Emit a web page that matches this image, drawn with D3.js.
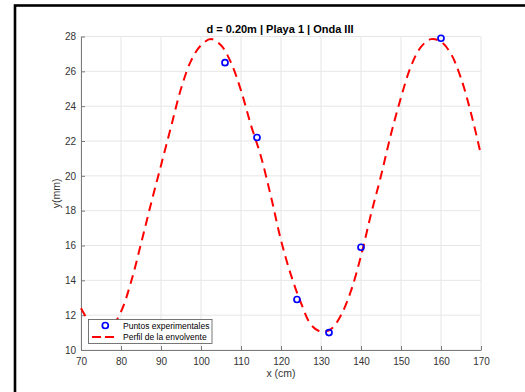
<!DOCTYPE html>
<html>
<head>
<meta charset="utf-8">
<script src="https://cdn.jsdelivr.net/npm/d3@7"></script>
<style>
  html, body { margin: 0; padding: 0; background: #fff; }
  svg { display: block; font-family: "Liberation Sans", Arial, Helvetica, sans-serif; }
</style>
</head>
<body>
<svg id="chart" width="525" height="392"></svg>
<script>
// Measured points along the wave profile
const pointX = [106, 114, 124, 132, 140, 160];
const pointY = [26.5, 22.2, 12.9, 11.0, 15.9, 27.9];

// Envelope profile, sampled every 2.5 cm
const envX = [70, 72.5, 75, 77.5, 80, 82.5, 85, 87.5, 90, 92.5, 95, 97.5, 100, 102.5, 105, 107.5,
              110, 112.5, 115, 117.5, 120, 122.5, 125, 127.5, 130, 132.5, 135, 137.5, 140, 142.5,
              145, 147.5, 150, 152.5, 155, 157.5, 160, 162.5, 165, 167.5, 170];
const envY = [12.4, 11.5, 11.1, 11.3, 12.2, 13.9, 16.1, 18.4, 20.6, 22.8, 25.0, 26.6, 27.5, 27.85, 27.5, 26.5,
              24.9, 22.9, 21.1, 18.8, 16.3, 14.3, 12.7, 11.45, 11.05, 11.2, 12.0, 13.4, 15.4, 17.8,
              20.0, 22.4, 24.5, 26.3, 27.4, 27.85, 27.7, 27.0, 25.6, 23.6, 21.2];

const xTicks = [70, 80, 90, 100, 110, 120, 130, 140, 150, 160, 170];
const yTicks = [10, 12, 14, 16, 18, 20, 22, 24, 26, 28];

const titleText = "d = 0.20m | Playa 1 | Onda III";
const xLabel = "x (cm)";
const yLabel = "y(mm)";
const legendLabels = ["Puntos experimentales", "Perfil de la envolvente"];

const svg = d3.select("#chart");
const plotLeft = 81, plotRight = 481, plotTop = 36.5, plotBottom = 350;

const x = d3.scaleLinear().domain([70, 170]).range([plotLeft, plotRight]);
const y = d3.scaleLinear().domain([10, 28]).range([plotBottom, plotTop]);

// Figure frame
svg.append("rect").attr("x", 15).attr("y", 5.5).attr("width", 540).attr("height", 420)
  .attr("fill", "#fff").attr("stroke", "#000").attr("stroke-width", 2.6);

// Grid
const grid = svg.append("g").attr("stroke", "#e6e6e6").attr("stroke-width", 1);
grid.selectAll("line.gx").data(xTicks).join("line").attr("class", "gx")
  .attr("x1", d => x(d)).attr("x2", d => x(d)).attr("y1", plotTop).attr("y2", plotBottom);
grid.selectAll("line.gy").data(yTicks).join("line").attr("class", "gy")
  .attr("x1", plotLeft).attr("x2", plotRight).attr("y1", d => y(d)).attr("y2", d => y(d));

// Axes (ticks point inward)
const axisColor = "#7a7a7a";
const gx = svg.append("g").attr("transform", `translate(0,${plotBottom})`)
  .call(d3.axisBottom(x).tickValues(xTicks).tickSizeInner(-4).tickSizeOuter(0).tickPadding(8));
const gy = svg.append("g").attr("transform", `translate(${plotLeft},0)`)
  .call(d3.axisLeft(y).tickValues(yTicks).tickSizeInner(-4).tickSizeOuter(0).tickPadding(5));
[gx, gy].forEach(g => {
  g.select(".domain").attr("stroke", axisColor).attr("stroke-width", 1);
  g.selectAll(".tick line").attr("stroke", axisColor);
  g.selectAll(".tick text").attr("fill", "#333").attr("font-size", 10)
    .attr("font-family", "'Liberation Sans', Arial, sans-serif");
});

// Envelope curve
const env = envX.map((v, i) => [v, envY[i]]);
svg.append("path").datum(env)
  .attr("fill", "none").attr("stroke", "#ff0000").attr("stroke-width", 2)
  .attr("stroke-dasharray", "9,6")
  .attr("d", d3.line().x(d => x(d[0])).y(d => y(d[1])).curve(d3.curveCatmullRom));

// Experimental points
svg.selectAll("circle.pt").data(pointX.map((v, i) => [v, pointY[i]])).join("circle")
  .attr("class", "pt")
  .attr("cx", d => x(d[0])).attr("cy", d => y(d[1])).attr("r", 3)
  .attr("fill", "none").attr("stroke", "#0000ff").attr("stroke-width", 1.7);

// Title and axis labels
svg.append("text").attr("x", 280).attr("y", 33).attr("text-anchor", "middle")
  .attr("font-size", 11).attr("font-weight", "bold").attr("fill", "#000").text(titleText);
svg.append("text").attr("x", 281).attr("y", 377).attr("text-anchor", "middle")
  .attr("font-size", 10.5).attr("fill", "#333").text(xLabel);
svg.append("text").attr("transform", `translate(60,${(plotTop + plotBottom) / 2}) rotate(-90)`)
  .attr("text-anchor", "middle").attr("font-size", 10.5).attr("fill", "#333").text(yLabel);

// Legend
const lg = svg.append("g");
lg.append("rect").attr("x", 88.5).attr("y", 319.5).attr("width", 123.5).attr("height", 24)
  .attr("fill", "#fff").attr("stroke", "#555").attr("stroke-width", 0.8);
lg.append("circle").attr("cx", 105.3).attr("cy", 325.5).attr("r", 3)
  .attr("fill", "none").attr("stroke", "#0000ff").attr("stroke-width", 1.7);
lg.append("line").attr("x1", 92).attr("x2", 114).attr("y1", 337).attr("y2", 337)
  .attr("stroke", "#ff0000").attr("stroke-width", 2).attr("stroke-dasharray", "9,4");
lg.selectAll("text").data(legendLabels).join("text")
  .attr("x", 123).attr("y", (d, i) => 328.5 + i * 11.5)
  .attr("font-size", 8.5).attr("fill", "#000").text(d => d);
</script>
</body>
</html>
